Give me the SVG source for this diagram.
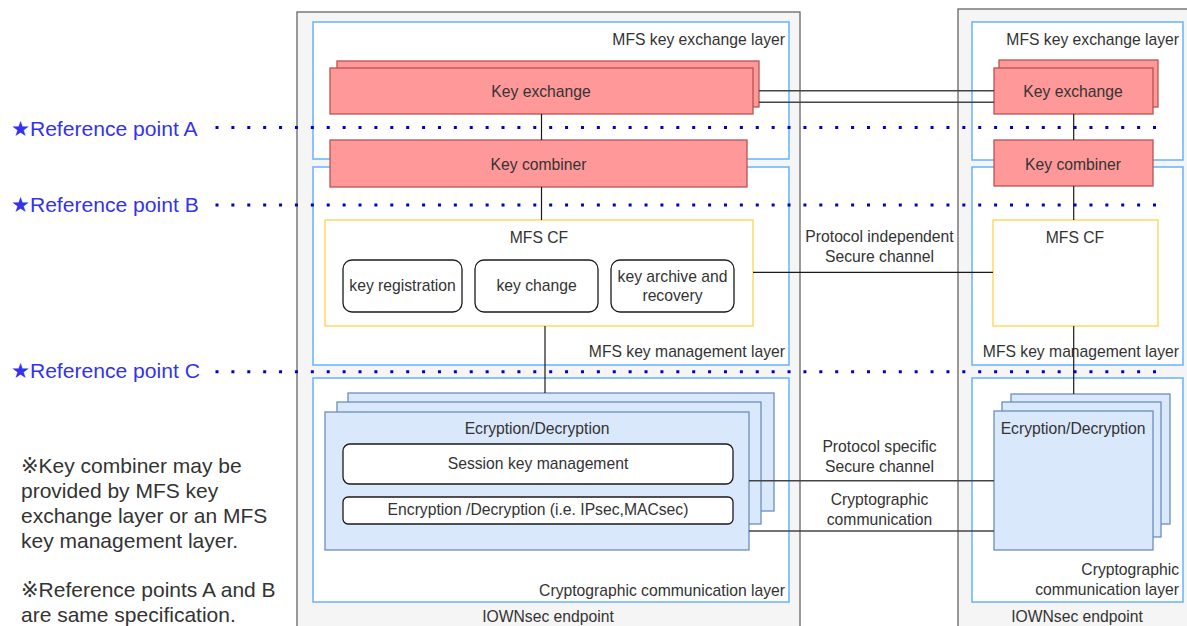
<svg xmlns="http://www.w3.org/2000/svg" width="1187" height="626" viewBox="0 0 1187 626">
  <style>
    text { font-family: "Liberation Sans", Arial, "DejaVu Sans", "Noto Sans CJK JP", sans-serif; fill: #333333; }
    .lbl { font-size: 15.7px; }
    .mid { text-anchor: middle; }
    .end { text-anchor: end; }
    .endpoint { fill: #f5f5f5; stroke: #666666; stroke-width: 1.3; }
    .layer { fill: #ffffff; stroke: #66b2ff; stroke-width: 1.5; }
    .red { fill: #ff9999; stroke: #b85450; stroke-width: 1.3; }
    .cf { fill: #ffffff; stroke: #ffd966; stroke-width: 1.5; }
    .func { fill: #ffffff; stroke: #1a1a1a; stroke-width: 1.3; }
    .blue { fill: #dae8fc; stroke: #6c8ebf; stroke-width: 1.3; }
    .link { fill: none; stroke: #1a1a1a; stroke-width: 1.2; }
    .chan { fill: none; stroke: #444444; stroke-width: 1.4; }
    .refline { fill: none; stroke: #0000cc; stroke-width: 3; stroke-dasharray: 3 12.89; }
    .ref { font-size: 21.1px; fill: #3333ee; }
    .note { font-size: 21px; fill: #333333; }
  </style>

  <!-- IOWNsec endpoints -->
  <g id="endpoint-left">
    <rect class="endpoint" x="297" y="12" width="503" height="630"/>
    <text class="lbl mid" x="548" y="621.5">IOWNsec endpoint</text>
  </g>
  <g id="endpoint-right">
    <rect class="endpoint" x="958" y="9" width="260" height="640"/>
    <text class="lbl mid" x="1077" y="621.5">IOWNsec endpoint</text>
  </g>

  <!-- Layers, left endpoint -->
  <g id="kex-layer-left">
    <rect class="layer" x="313" y="22" width="476" height="137"/>
    <text class="lbl end" x="785" y="45">MFS key exchange layer</text>
  </g>
  <g id="kmgmt-layer-left">
    <rect class="layer" x="313" y="167" width="476" height="198"/>
    <text class="lbl end" x="785" y="357">MFS key management layer</text>
  </g>
  <g id="crypto-layer-left">
    <rect class="layer" x="313" y="378" width="476" height="224"/>
    <text class="lbl end" x="785" y="595.5">Cryptographic communication layer</text>
  </g>

  <!-- Layers, right endpoint -->
  <g id="kex-layer-right">
    <rect class="layer" x="972" y="22" width="211" height="138"/>
    <text class="lbl end" x="1179" y="45">MFS key exchange layer</text>
  </g>
  <g id="kmgmt-layer-right">
    <rect class="layer" x="972" y="167" width="211" height="198"/>
    <text class="lbl end" x="1179" y="357">MFS key management layer</text>
  </g>
  <g id="crypto-layer-right">
    <rect class="layer" x="972" y="378" width="211" height="224"/>
    <text class="lbl end" x="1179" y="575">Cryptographic</text>
    <text class="lbl end" x="1179" y="594.5">communication layer</text>
  </g>

  <!-- Key exchange -->
  <g id="key-exchange-left">
    <rect class="red" x="337" y="61" width="422" height="46"/>
    <rect class="red" x="330" y="68" width="423" height="46"/>
    <text class="lbl mid" x="541" y="96.7">Key exchange</text>
  </g>
  <g id="key-exchange-right">
    <rect class="red" x="999" y="60" width="159" height="47"/>
    <rect class="red" x="994" y="68" width="159" height="46"/>
    <text class="lbl mid" x="1073" y="96.7">Key exchange</text>
  </g>

  <!-- Key combiner -->
  <g id="key-combiner-left">
    <rect class="red" x="330" y="140" width="417" height="47"/>
    <text class="lbl mid" x="538.5" y="170">Key combiner</text>
  </g>
  <g id="key-combiner-right">
    <rect class="red" x="994" y="140" width="159" height="46"/>
    <text class="lbl mid" x="1073" y="170">Key combiner</text>
  </g>

  <!-- MFS CF -->
  <g id="mfs-cf-left">
    <rect class="cf" x="325" y="220" width="428" height="106"/>
    <text class="lbl mid" x="539" y="242.7">MFS CF</text>
  </g>
  <g id="key-registration">
    <rect class="func" x="343" y="260" width="119" height="52" rx="9"/>
    <text class="lbl mid" x="402.5" y="290.7">key registration</text>
  </g>
  <g id="key-change">
    <rect class="func" x="475" y="260" width="123" height="52" rx="9"/>
    <text class="lbl mid" x="536.5" y="290.7">key change</text>
  </g>
  <g id="key-archive">
    <rect class="func" x="611" y="260" width="123" height="52" rx="9"/>
    <text class="lbl mid" x="672.5" y="281.7">key archive and</text>
    <text class="lbl mid" x="672.5" y="300.7">recovery</text>
  </g>
  <g id="mfs-cf-right">
    <rect class="cf" x="993" y="220" width="165" height="106"/>
    <text class="lbl mid" x="1075" y="242.7">MFS CF</text>
  </g>

  <!-- Encryption / Decryption -->
  <g id="crypto-left">
    <rect class="blue" x="348" y="393" width="426" height="118"/>
    <rect class="blue" x="337" y="402" width="424" height="122"/>
    <rect class="blue" x="325" y="412" width="424" height="138"/>
    <text class="lbl mid" x="537" y="434">Ecryption/Decryption</text>
  </g>
  <g id="session-key-management">
    <rect class="func" x="343" y="444" width="390" height="40" rx="7"/>
    <text class="lbl mid" x="538" y="469">Session key management</text>
  </g>
  <g id="encryption-ipsec">
    <rect class="func" x="343" y="497" width="390" height="27" rx="5"/>
    <text class="lbl mid" x="538" y="514.5">Encryption /Decryption (i.e. IPsec,MACsec)</text>
  </g>
  <g id="crypto-right">
    <rect class="blue" x="1011" y="394" width="159" height="130"/>
    <rect class="blue" x="1002" y="402" width="159" height="135"/>
    <rect class="blue" x="994" y="411" width="159" height="139"/>
    <text class="lbl mid" x="1073" y="434">Ecryption/Decryption</text>
  </g>

  <!-- Connectors -->
  <g id="connectors">
    <!-- key exchange channel -->
    <line class="chan" x1="759" y1="90.7" x2="994" y2="90.7"/>
    <line class="chan" x1="759" y1="102.3" x2="994" y2="102.3"/>
    <!-- vertical chain, left -->
    <line class="link" x1="541.5" y1="114" x2="541.5" y2="140"/>
    <line class="link" x1="541.5" y1="187" x2="541.5" y2="220"/>
    <line class="link" x1="545" y1="326" x2="545" y2="393"/>
    <!-- vertical chain, right -->
    <line class="link" x1="1073.7" y1="114" x2="1073.7" y2="140"/>
    <line class="link" x1="1073.7" y1="186" x2="1073.7" y2="220"/>
    <line class="link" x1="1073.7" y1="326" x2="1073.7" y2="394"/>
    <!-- protocol independent secure channel -->
    <line class="link" x1="753" y1="272.3" x2="993" y2="272.3"/>
    <!-- protocol specific secure channel / cryptographic communication -->
    <line class="chan" x1="749" y1="480.7" x2="994" y2="480.7"/>
    <line class="chan" x1="749" y1="531" x2="994" y2="531"/>
  </g>

  <!-- Channel labels -->
  <g id="channel-labels">
    <text class="lbl mid" x="879.5" y="241.7">Protocol independent</text>
    <text class="lbl mid" x="879.5" y="261.7">Secure channel</text>
    <text class="lbl mid" x="879.5" y="451.7">Protocol specific</text>
    <text class="lbl mid" x="879.5" y="471.7">Secure channel</text>
    <text class="lbl mid" x="879.5" y="505">Cryptographic</text>
    <text class="lbl mid" x="879.5" y="525">communication</text>
  </g>

  <!-- Reference points -->
  <g id="reference-points">
    <line class="refline" x1="215.5" y1="127.5" x2="1160" y2="127.5"/>
    <line class="refline" x1="215.5" y1="205" x2="1160" y2="205"/>
    <line class="refline" x1="215.5" y1="371.7" x2="1160" y2="371.7"/>
    <text class="ref" x="11" y="136">★Reference point A</text>
    <text class="ref" x="11" y="211.7">★Reference point B</text>
    <text class="ref" x="11" y="378">★Reference point C</text>
  </g>

  <!-- Notes -->
  <g id="notes">
    <text class="note" x="21" y="473.3">※Key combiner may be</text>
    <text class="note" x="21" y="498.3">provided by MFS key</text>
    <text class="note" x="21" y="523.3">exchange layer or an MFS</text>
    <text class="note" x="21" y="547.7">key management layer.</text>
    <text class="note" x="21" y="596.7">※Reference points A and B</text>
    <text class="note" x="21" y="621.7">are same specification.</text>
  </g>
</svg>
